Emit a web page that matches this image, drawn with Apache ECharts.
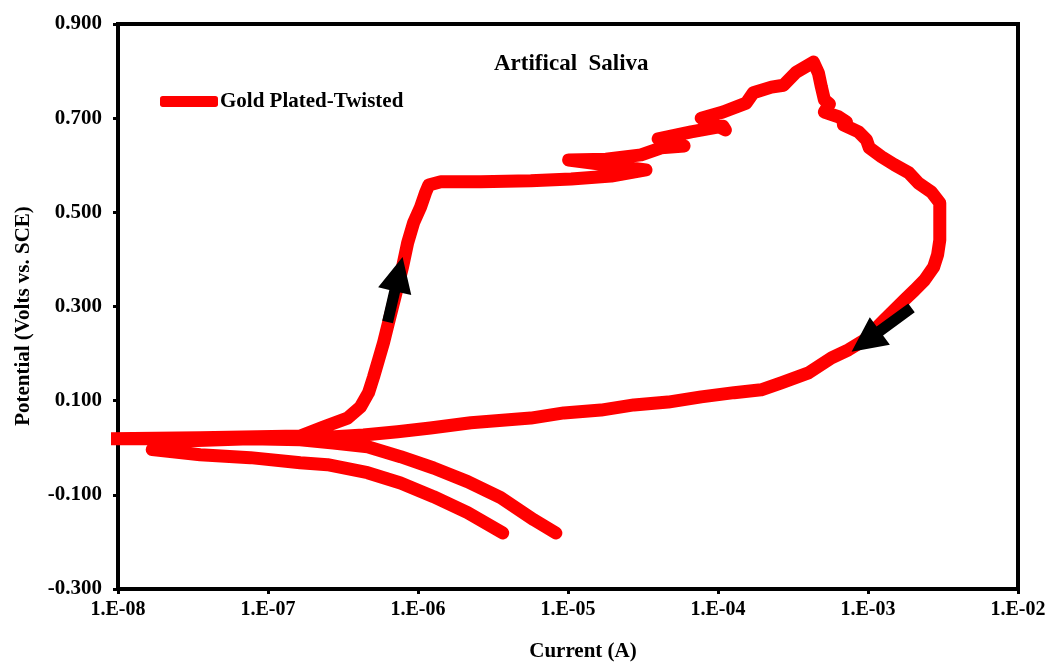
<!DOCTYPE html>
<html>
<head>
<meta charset="utf-8">
<script src="https://cdn.jsdelivr.net/npm/echarts@6/dist/echarts.min.js"></script>
<style>
  html, body { margin: 0; padding: 0; background: #fff; }
  #chart { width: 1049px; height: 664px; }
</style>
</head>
<body>
<div id="chart"></div>
<script>
// Cyclic polarization scan: current (A) and potential (V vs. SCE), in scan order
const scanCurrent = [
  8.30e-6, 5.92e-6, 3.56e-6, 2.14e-6, 1.27e-6, 7.65e-7, 4.61e-7, 2.73e-7, 1.64e-7, 7.62e-8, 2.60e-8, 8.8e-9,
  3.53e-8, 1.64e-7, 2.34e-7, 3.39e-7, 4.14e-7, 4.68e-7, 5.05e-7, 5.46e-7, 5.89e-7, 6.26e-7, 6.76e-7,
  7.31e-7, 7.89e-7, 8.53e-7, 9.35e-7, 1.04e-6, 1.12e-6, 1.18e-6, 1.42e-6, 2.62e-6, 5.65e-6, 1.05e-5,
  1.94e-5, 3.31e-5, 1.01e-5, 1.79e-5, 3.07e-5, 4.18e-5, 5.94e-5, 3.99e-5, 6.62e-5, 1.08e-4, 1.12e-4,
  7.73e-5, 1.08e-4, 1.54e-4, 1.72e-4, 2.27e-4, 2.73e-4, 3.33e-4, 4.33e-4,
  4.67e-4, 4.89e-4, 5.12e-4, 5.53e-4, 5.12e-4, 6.35e-4, 7.18e-4, 6.85e-4, 8.65e-4, 9.77e-4, 1.02e-3,
  1.23e-3, 1.50e-3, 1.87e-3, 2.17e-3, 2.65e-3, 3.01e-3, 3.01e-3, 3.01e-3, 2.91e-3, 2.74e-3, 2.38e-3,
  2.05e-3, 1.75e-3, 1.50e-3, 1.29e-3, 1.10e-3, 9.48e-4, 7.41e-4, 5.71e-4, 4.01e-4, 2.64e-4, 1.94e-4,
  1.28e-4, 7.73e-5, 4.65e-5, 2.75e-5, 1.66e-5, 9.39e-6, 5.65e-6, 2.25e-6, 1.21e-6, 7.31e-7, 4.33e-7,
  2.61e-7, 7.62e-8, 1.91e-8, 1.69e-8,
  3.53e-8, 7.62e-8, 1.64e-7, 2.49e-7, 4.61e-7, 7.65e-7, 1.27e-6, 2.14e-6, 3.67e-6
];
const scanPotential = [
  -0.181, -0.153, -0.106, -0.072, -0.043, -0.019, 0.002, 0.010, 0.017, 0.019, 0.019, 0.019,
  0.021, 0.025, 0.044, 0.063, 0.087, 0.117, 0.150, 0.187, 0.223, 0.257, 0.299,
  0.342, 0.384, 0.435, 0.478, 0.511, 0.541, 0.558, 0.565, 0.565, 0.567, 0.571,
  0.577, 0.590, 0.611, 0.613, 0.622, 0.637, 0.641, 0.656, 0.671, 0.683, 0.675,
  0.700, 0.713, 0.732, 0.754, 0.766, 0.770, 0.798, 0.819,
  0.796, 0.766, 0.739, 0.730, 0.713, 0.703, 0.692, 0.686, 0.671, 0.654, 0.637,
  0.618, 0.601, 0.584, 0.562, 0.543, 0.520, 0.477, 0.441, 0.410, 0.384, 0.356,
  0.335, 0.314, 0.293, 0.272, 0.250, 0.229, 0.208, 0.191, 0.159, 0.138, 0.123,
  0.117, 0.108, 0.097, 0.091, 0.080, 0.074, 0.063, 0.053, 0.042, 0.034, 0.027,
  0.023, 0.019, 0.013, -0.004,
  -0.015, -0.021, -0.032, -0.036, -0.053, -0.075, -0.104, -0.138, -0.181
];

// Scan-direction arrows: tail current, tail potential, tip current, tip potential
const arrowTailCurrent = [6.27e-7, 1.95e-3];
const arrowTailPotential = [0.267, 0.297];
const arrowTipCurrent = [7.89e-7, 7.77e-4];
const arrowTipPotential = [0.405, 0.204];

// Axis ranges and ticks
const xMin = 1e-8, xMax = 1e-2;
const yMin = -0.3, yMax = 0.9, yStep = 0.2;

const seriesName = 'Gold Plated-Twisted';
const chartTitle = 'Artifical  Saliva';
const xTitle = 'Current (A)';
const yTitle = 'Potential (Volts vs. SCE)';

const points = scanCurrent.map((c, i) => [c, scanPotential[i]]);
const arrows = arrowTailCurrent.map((c, i) =>
  [c, arrowTailPotential[i], arrowTipCurrent[i], arrowTipPotential[i]]);

const serif = '"Liberation Serif", "Times New Roman", serif';

function sciLabel(v) {
  const e = Math.round(Math.log10(v));
  const a = Math.abs(e);
  return '1.E' + (e < 0 ? '-' : '+') + (a < 10 ? '0' + a : a);
}

// Filled block arrow from tail to tip, in pixel space after axis mapping
function renderArrow(params, api) {
  const tail = api.coord([api.value(0), api.value(1)]);
  const tip = api.coord([api.value(2), api.value(3)]);
  const dx = tip[0] - tail[0], dy = tip[1] - tail[1];
  const len = Math.sqrt(dx * dx + dy * dy);
  const ux = dx / len, uy = dy / len;
  const nx = -uy, ny = ux;
  const headLen = 35, headHalf = 17, shaftHalf = 5.5;
  const bx = tip[0] - ux * headLen, by = tip[1] - uy * headLen;
  const pts = [
    [tail[0] + nx * shaftHalf, tail[1] + ny * shaftHalf],
    [bx + nx * shaftHalf, by + ny * shaftHalf],
    [bx + nx * headHalf, by + ny * headHalf],
    [tip[0], tip[1]],
    [bx - nx * headHalf, by - ny * headHalf],
    [bx - nx * shaftHalf, by - ny * shaftHalf],
    [tail[0] - nx * shaftHalf, tail[1] - ny * shaftHalf]
  ];
  return { type: 'polygon', shape: { points: pts }, style: { fill: '#000' } };
}

const chart = echarts.init(document.getElementById('chart'), null, { renderer: 'canvas' });

chart.setOption({
  animation: false,
  backgroundColor: '#ffffff',
  title: {
    text: chartTitle,
    left: 489,
    top: 48,
    textStyle: { fontFamily: serif, fontWeight: 'bold', fontSize: 23, color: '#000' }
  },
  legend: {
    left: 155,
    top: 86,
    icon: 'roundRect',
    itemWidth: 58,
    itemHeight: 11,
    itemGap: 4,
    data: [seriesName],
    textStyle: { fontFamily: serif, fontWeight: 'bold', fontSize: 21, color: '#000', padding: [0, 0, 0, -3] }
  },
  grid: {
    left: 118, right: 31, top: 24, bottom: 75,
    show: true,
    borderColor: '#000',
    borderWidth: 4
  },
  xAxis: {
    type: 'log',
    logBase: 10,
    min: xMin,
    max: xMax,
    axisLine: { show: true, onZero: false, lineStyle: { color: '#000', width: 4 } },
    axisTick: { show: true, inside: false, length: 5, lineStyle: { color: '#000', width: 3 } },
    minorTick: { show: false },
    splitLine: { show: false },
    axisLabel: {
      margin: 11,
      fontFamily: serif, fontWeight: 'bold', fontSize: 20, color: '#000',
      formatter: sciLabel
    }
  },
  yAxis: {
    type: 'value',
    min: yMin,
    max: yMax,
    interval: yStep,
    axisLine: { show: true, lineStyle: { color: '#000', width: 4 } },
    axisTick: { show: true, inside: false, length: 5, lineStyle: { color: '#000', width: 3 } },
    splitLine: { show: false },
    axisLabel: {
      margin: 16,
      fontFamily: serif, fontWeight: 'bold', fontSize: 21, color: '#000',
      formatter: v => v.toFixed(3)
    }
  },
  graphic: [
    {
      type: 'text',
      x: 583, y: 652,
      style: {
        text: xTitle, fill: '#000',
        font: 'bold 21px ' + serif,
        textAlign: 'center', textVerticalAlign: 'middle'
      }
    },
    {
      type: 'text',
      x: 24, y: 316,
      rotation: Math.PI / 2,
      style: {
        text: yTitle, fill: '#000',
        font: 'bold 21px ' + serif,
        textAlign: 'center', textVerticalAlign: 'middle'
      }
    }
  ],
  series: [
    {
      name: seriesName,
      type: 'line',
      data: points,
      showSymbol: false,
      symbol: 'none',
      clip: true,
      color: '#ff0000',
      lineStyle: { color: '#ff0000', width: 13, cap: 'round', join: 'round' },
      z: 2
    },
    {
      name: 'scan direction',
      type: 'custom',
      data: arrows,
      encode: { x: [0, 2], y: [1, 3] },
      renderItem: renderArrow,
      silent: true,
      z: 3
    }
  ]
});
</script>
</body>
</html>
